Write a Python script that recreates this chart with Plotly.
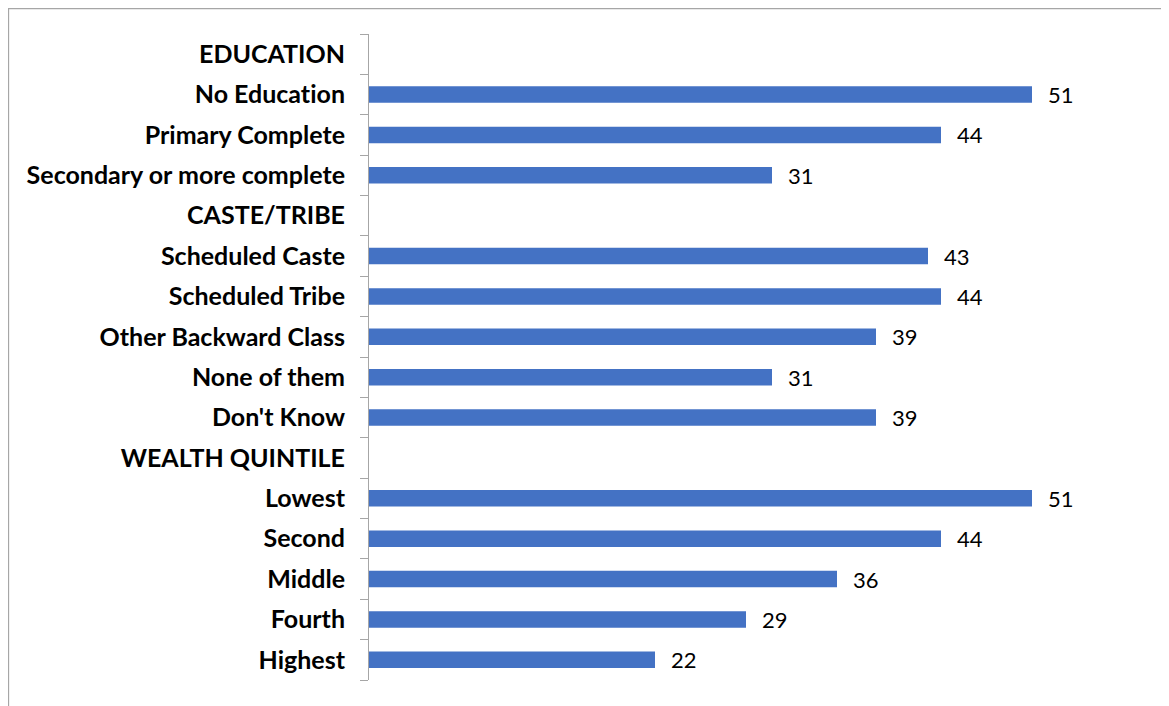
import plotly.graph_objects as go

categories = ["EDUCATION", "No Education", "Primary Complete", "Secondary or more complete",
              "CASTE/TRIBE", "Scheduled Caste", "Scheduled Tribe", "Other Backward Class",
              "None of them", "Don't Know", "WEALTH QUINTILE", "Lowest", "Second", "Middle",
              "Fourth", "Highest"]
values = [None, 51, 44, 31, None, 43, 44, 39, 31, 39, None, 51, 44, 36, 29, 22]

# page body has an 8px default margin; size the figure to fit inside the window
W, H = 1161, 698
L, T, B = 361, 26, 26
PW = 780
R = W - L - PW

# avoid the "ti" ligature of the substitute font
tick_text = [c.replace("ti", "t\u200ci") for c in categories]

fig = go.Figure()
fig.add_trace(go.Bar(
    y=categories, x=values, orientation="h",
    marker=dict(color="#4472C4", line=dict(width=0)),
    hoverinfo="skip",
))

for c, v in zip(categories, values):
    if v is not None:
        fig.add_annotation(x=v, y=c, text=str(v), showarrow=False, xanchor="left",
                           xshift=14, font=dict(family="Lato", size=22, color="#000000"))

ph = H - T - B
fig.add_shape(type="rect", xref="paper", yref="paper",
              x0=(0.5 - L) / PW, x1=(W + 20 - L) / PW,
              y0=-0.2, y1=(H - B - 0.5) / ph,
              line=dict(color="#A6A6A6", width=1.3), layer="below")

fig.update_layout(
    width=W, height=H,
    margin=dict(l=L, r=R, t=T, b=B),
    plot_bgcolor="white", paper_bgcolor="white",
    bargap=0.59, showlegend=False,
    xaxis=dict(range=[0, 60], visible=False, showgrid=False, zeroline=False),
    yaxis=dict(autorange="reversed", type="category", showline=True, linecolor="#A6A6A6",
               linewidth=1, ticks="outside", ticklen=8, tickcolor="#A6A6A6", tickwidth=1,
               tickson="boundaries", showgrid=False, ticklabelstandoff=18,
               tickvals=categories, ticktext=tick_text,
               tickfont=dict(family="Lato", size=25, color="#000000", weight="bold")),
)

fig.write_html("out.html")
